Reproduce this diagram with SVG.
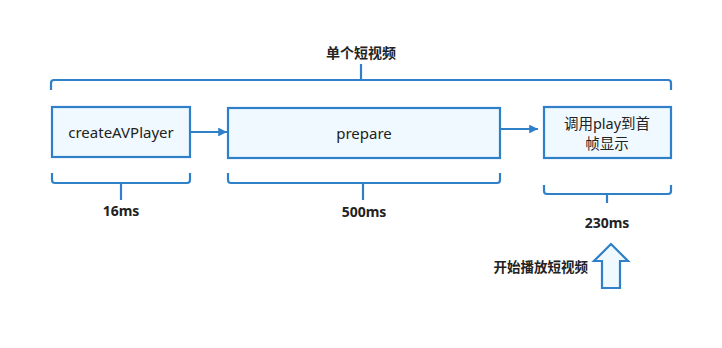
<svg xmlns="http://www.w3.org/2000/svg" width="722" height="348" viewBox="0 0 722 348">
<defs>
<style>
.box{fill:#f0f9ff;stroke:#2f80c8;stroke-width:2.2}
.line{fill:none;stroke:#2f80c8;stroke-width:2.2}
.t{font-family:"Noto Sans","Noto Sans CJK SC",sans-serif;font-size:15px;fill:#222;text-anchor:middle;dominant-baseline:central}
.b{font-family:"Noto Sans","Noto Sans CJK SC",sans-serif;font-size:14px;font-weight:bold;fill:#222;text-anchor:middle;dominant-baseline:central}
</style>
<marker id="ah" viewBox="0 0 10 10" refX="10" refY="5" markerWidth="4.4" markerHeight="4" orient="auto" markerUnits="strokeWidth">
<path d="M0,0 L10,5 L0,10 z" fill="#2f80c8"/>
</marker>
</defs>
<rect width="722" height="348" fill="#ffffff"/>
<g id="title"><text class="b" x="361" y="52">单个短视频</text></g>
<g id="node-create"><rect class="box" x="52" y="107" width="138" height="50"/><text class="t" x="121" y="132">createAVPlayer</text></g>
<g id="node-prepare"><rect class="box" x="228" y="108" width="272" height="50"/><text class="t" x="364" y="133">prepare</text></g>
<g id="node-play"><rect class="box" x="544" y="107" width="127" height="51"/><text class="t" x="607" y="123" style="font-size:14.5px">调用play到首</text><text class="t" x="607" y="143" style="font-size:14.5px">帧显示</text></g>
<g id="connectors">
<line class="line" x1="190" y1="132" x2="227" y2="132" marker-end="url(#ah)"/>
<line class="line" x1="500" y1="129" x2="538" y2="129" marker-end="url(#ah)"/>
</g>
<g id="braces">
<path class="line" d="M51,90 V83 Q51,80 54,80 H668 Q671,80 671,83 V90"/>
<line class="line" x1="361" y1="80" x2="361" y2="64"/>
<path class="line" d="M52,173 V180 Q52,183 55,183 H187 Q190,183 190,180 V173"/>
<line class="line" x1="121" y1="183" x2="121" y2="200"/>
<path class="line" d="M228,173 V180 Q228,183 231,183 H497 Q500,183 500,180 V173"/>
<line class="line" x1="363" y1="183" x2="363" y2="200"/>
<path class="line" d="M544,185 V191 Q544,194 547,194 H668 Q671,194 671,191 V185"/>
<line class="line" x1="607" y1="194" x2="607" y2="203"/>
</g>
<g id="labels">
<text class="b" x="121" y="210">16ms</text>
<text class="b" x="364" y="211">500ms</text>
<text class="b" x="607" y="222">230ms</text>
</g>
<g id="start-arrow">
<path d="M611,244 L628,261 L620,261 L620,288 L602,288 L602,261 L594,261 Z" fill="#f0f9ff" stroke="#2f80c8" stroke-width="2.2" stroke-linejoin="miter"/>
<text class="b" x="588" y="267" style="text-anchor:end;font-size:13.5px">开始播放短视频</text>
</g>
</svg>
